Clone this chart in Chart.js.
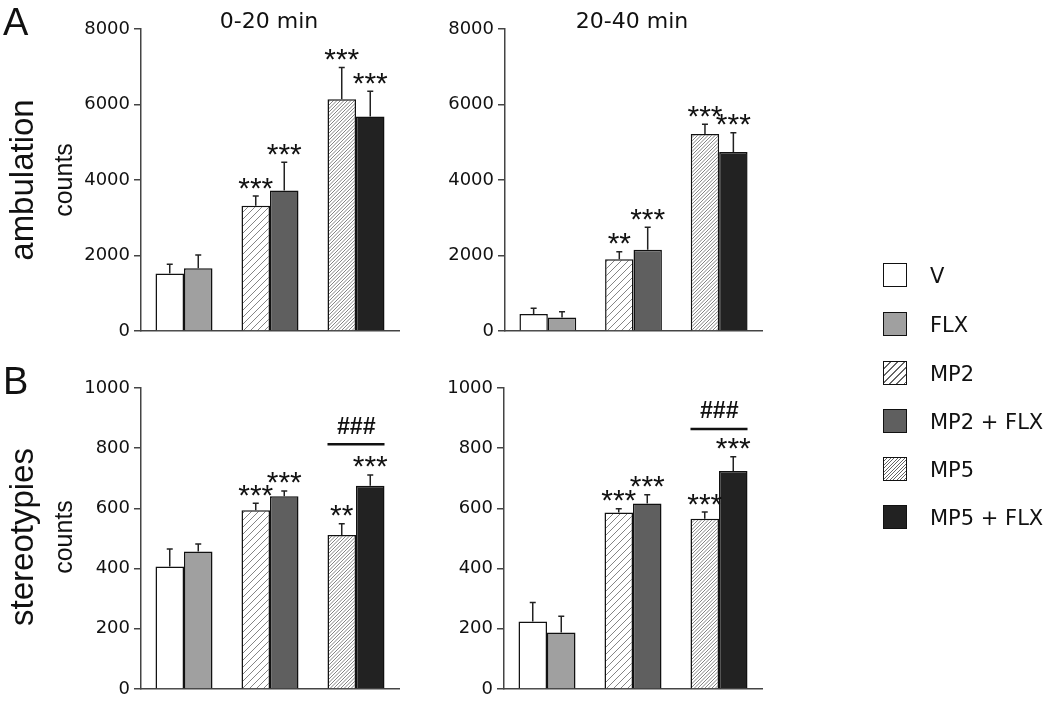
<!DOCTYPE html>
<html><head><meta charset="utf-8">
<script src="https://cdn.jsdelivr.net/npm/chart.js@4/dist/chart.umd.min.js"></script>
<style>
html,body{margin:0;padding:0;background:#fff;}
#wrap{position:relative;width:1050px;height:706px;overflow:hidden;background:#fff;}
canvas{position:absolute;left:0;top:0;}
.t{position:absolute;white-space:nowrap;line-height:1;color:#111;transform:translate(-50%,-50%);}
.rot{transform:translate(-50%,-50%) rotate(-90deg);}
.panel{font-family:"Liberation Sans",Arial,sans-serif;font-size:38px;position:absolute;line-height:1;color:#111;}
.title{font-family:"DejaVu Sans",sans-serif;font-size:22px;}
.big{font-family:"Liberation Sans",Arial,sans-serif;font-size:33px;}
.unit{font-family:"Liberation Sans",Arial,sans-serif;font-size:25px;}
.lg{position:absolute;left:883px;width:22px;height:22px;border:1.5px solid #111;}
.lgt{position:absolute;left:930px;font-family:"DejaVu Sans",sans-serif;font-size:21px;line-height:1;color:#111;transform:translateY(-50%);white-space:nowrap;}
</style></head>
<body><div id="wrap">
<canvas id="c0" width="1050" height="706"></canvas>
<canvas id="c1" width="1050" height="706"></canvas>
<canvas id="c2" width="1050" height="706"></canvas>
<canvas id="c3" width="1050" height="706"></canvas>
<div class="panel" style="left:3px;top:3px;">A</div>
<div class="panel" style="left:3px;top:362px;">B</div>
<div class="t title" style="left:269px;top:21px;">0-20 min</div>
<div class="t title" style="left:632px;top:21px;">20-40 min</div>
<div class="t big rot" style="left:21px;top:180px;">ambulation</div>
<div class="t unit rot" style="left:63px;top:180px;">counts</div>
<div class="t big rot" style="left:21px;top:537px;">stereotypies</div>
<div class="t unit rot" style="left:63px;top:537px;">counts</div>
<div id="legend"></div>
</div>
<script>
// ---- data ----
const treatments = ['V', 'FLX', 'MP2', 'MP2 + FLX', 'MP5', 'MP5 + FLX'];
const groups = ['V/FLX', 'MP2', 'MP5'];

const ambul_0_20      = [1520, 1660, 3320, 3720, 6140, 5680];
const ambul_0_20_err  = [250, 350, 255, 750, 840, 670];
const ambul_0_20_sig  = ['', '', '***', '***', '***', '***'];

const ambul_20_40     = [450, 360, 1900, 2150, 5220, 4740];
const ambul_20_40_err = [150, 150, 200, 600, 255, 510];
const ambul_20_40_sig = ['', '', '**', '***', '***', '***'];

const stereo_0_20      = [407, 457, 594, 640, 512, 675];
const stereo_0_20_err  = [58, 25, 23, 18, 37, 36];
const stereo_0_20_sig  = ['', '', '***', '***', '**', '***'];

const stereo_20_40     = [224, 188, 586, 616, 566, 724];
const stereo_20_40_err = [63, 54, 13, 29, 22, 48];
const stereo_20_40_sig = ['', '', '***', '***', '***', '***'];

const ambulTicks  = {max: 8000, step: 2000};
const stereoTicks = {max: 1000, step: 200};

const hashLabel = '###';
const stereo_0_20_hashLine  = 813;
const stereo_20_40_hashLine = 864;

// ---- styling ----
function hatch(spacing){
  const s = 14;
  const c = document.createElement('canvas'); c.width = s; c.height = s;
  const g = c.getContext('2d');
  g.fillStyle = '#fff'; g.fillRect(0,0,s,s);
  g.strokeStyle = '#666'; g.lineWidth = 0.8;
  for (let o = -s; o <= 2*s; o += spacing){
    g.beginPath(); g.moveTo(o - s, s); g.lineTo(o, 0); g.stroke();
  }
  return c;
}
const tmpCtx = document.createElement('canvas').getContext('2d');
const pat2 = tmpCtx.createPattern(hatch(7), 'repeat');
const pat5 = tmpCtx.createPattern(hatch(3.5), 'repeat');
const fills = ['#ffffff', '#a0a0a0', pat2, '#5f5f5f', pat5, '#222222'];
const cssFills = ['#ffffff', '#a0a0a0',
  'repeating-linear-gradient(135deg,#fff 0 4px,#666 4px 5px)', '#5f5f5f',
  'repeating-linear-gradient(135deg,#fff 0 1.8px,#666 1.8px 2.5px)', '#222222'];

const panels = [
  {id:'c0', vals:ambul_0_20, err:ambul_0_20_err, sig:ambul_0_20_sig, ticks:ambulTicks, hash:null, box:{l:141,r:399,t:29,b:331}},
  {id:'c1', vals:ambul_20_40, err:ambul_20_40_err, sig:ambul_20_40_sig, ticks:ambulTicks, hash:null, box:{l:505,r:762,t:29,b:331}},
  {id:'c2', vals:stereo_0_20, err:stereo_0_20_err, sig:stereo_0_20_sig, ticks:stereoTicks, hash:stereo_0_20_hashLine, box:{l:141,r:399,t:388,b:689}},
  {id:'c3', vals:stereo_20_40, err:stereo_20_40_err, sig:stereo_20_40_sig, ticks:stereoTicks, hash:stereo_20_40_hashLine, box:{l:504,r:762,t:388,b:689}},
];

const annot = {
  id: 'annot',
  afterDatasetsDraw(chart, args, opts){
    const p = opts.panel; const ctx = chart.ctx; const y = chart.scales.y;
    ctx.save();
    for (let i = 0; i < 6; i++){
      const el = chart.getDatasetMeta(i % 2).data[Math.floor(i / 2)];
      const yt = y.getPixelForValue(p.vals[i] + p.err[i]);
      ctx.strokeStyle = '#222'; ctx.lineWidth = 1.5;
      ctx.beginPath(); ctx.moveTo(el.x, el.y); ctx.lineTo(el.x, yt);
      ctx.moveTo(el.x - 3, yt); ctx.lineTo(el.x + 3, yt); ctx.stroke();
      if (p.sig[i]){
        ctx.font = '30px "Liberation Sans", Arial, sans-serif';
        ctx.fillStyle = '#111'; ctx.textAlign = 'center'; ctx.textBaseline = 'alphabetic';
        const m = ctx.measureText(p.sig[i]);
        const cy = yt - 13;
        const base = cy + (m.actualBoundingBoxAscent - m.actualBoundingBoxDescent) / 2;
        ctx.fillText(p.sig[i], el.x, base);
      }
    }
    if (p.hash !== null){
      const a = chart.getDatasetMeta(0).data[2], b = chart.getDatasetMeta(1).data[2];
      const x0 = a.x - a.width / 2, x1 = b.x + b.width / 2;
      const yl = y.getPixelForValue(p.hash);
      ctx.strokeStyle = '#111'; ctx.lineWidth = 2.5;
      ctx.beginPath(); ctx.moveTo(x0, yl); ctx.lineTo(x1, yl); ctx.stroke();
      ctx.font = 'italic bold 23px "Liberation Sans", Arial, sans-serif';
      ctx.fillStyle = '#111'; ctx.textAlign = 'center'; ctx.textBaseline = 'middle';
      ctx.fillText(hashLabel, (x0 + x1) / 2, yl - 17);
    }
    ctx.restore();
  }
};

panels.forEach(p => {
  const ds = [0, 1].map(k => ({
    data: [0, 1, 2].map(g => p.vals[g * 2 + k]),
    backgroundColor: [0, 1, 2].map(g => fills[g * 2 + k]),
    borderColor: '#111', borderWidth: 1.5,
    categoryPercentage: 0.663, barPercentage: 1.0
  }));
  new Chart(document.getElementById(p.id), {
    type: 'bar',
    data: {labels: groups, datasets: ds},
    plugins: [annot],
    options: {
      responsive: false, animation: false, devicePixelRatio: 1,
      layout: {padding: {left: p.box.l - 70, right: 1050 - p.box.r, top: p.box.t, bottom: 706 - p.box.b}},
      plugins: {legend: {display: false}, tooltip: {enabled: false}, annot: {panel: p}},
      scales: {
        x: {grid: {display: false}, ticks: {display: false},
            border: {display: true, color: '#444', width: 1.5},
            afterFit: s => { s.height = 0; }},
        y: {min: 0, max: p.ticks.max,
            ticks: {stepSize: p.ticks.step, color: '#111', padding: 4,
                    font: {family: '"DejaVu Sans", sans-serif', size: 18},
                    callback: v => String(v)},
            grid: {drawOnChartArea: false, drawTicks: true, tickLength: 7, color: '#444', lineWidth: 1.5},
            border: {display: true, color: '#444', width: 1.5},
            afterFit: s => { s.width = 70; }}
      }
    }
  });
});

// legend
const lg = document.getElementById('legend');
const lgTops = [263, 312, 361, 409, 457, 505];
treatments.forEach((name, i) => {
  const sw = document.createElement('div');
  sw.className = 'lg'; sw.style.top = lgTops[i] + 'px'; sw.style.background = cssFills[i];
  lg.appendChild(sw);
  const tx = document.createElement('div');
  tx.className = 'lgt'; tx.style.top = (lgTops[i] + 12.5) + 'px'; tx.textContent = name;
  lg.appendChild(tx);
});
</script>
</body></html>
